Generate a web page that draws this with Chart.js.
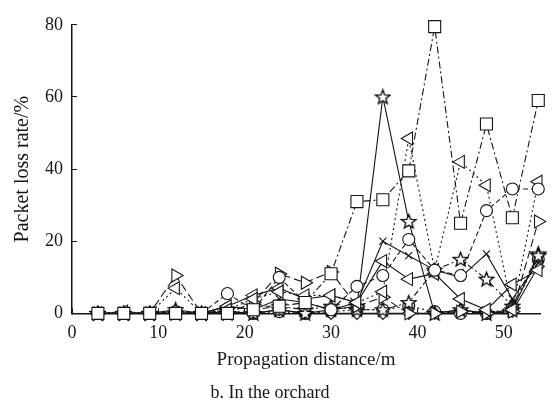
<!DOCTYPE html>
<html>
<head>
<meta charset="utf-8">
<script src="https://cdn.jsdelivr.net/npm/chart.js@4/dist/chart.umd.min.js"></script>
<style>
  html, body { margin: 0; padding: 0; background: #fff; }
</style>
</head>
<body>
<canvas id="grafico" width="552" height="405"></canvas>
<script>
// distanze (m)
var distanze = [3,6,9,12,15,18,21,24,27,30,33,36,39,42,45,48,51,54];

// packet loss (%) per ogni nodo
var lossQuadrato  = [0,0,0,0,0,0,1,2,3,11,31,31.5,39.5,79.5,25,52.5,26.5,59];
var lossCerchio   = [0,0,0,0.5,0,5.5,1,10,3,1,7.5,10.5,20.5,12,10.5,28.5,34.5,34.5];
var lossTriSx     = [0,0.5,0,7,0,1,4,6,5,5,3,6,48.5,12,42,35.5,1,36.5];
var lossTriSx2    = [0,0,0,0,0,2,5,7,4,5,3,14.5,9.5,11,4,1,8,12];
var lossTriDx     = [0,0,0,10.5,0,0,3,11,8.5,11.5,2,4.5,0,0,0.5,0,0.5,25.5];
var lossStella    = [0,0,0,1,0,0,0,1,0,1,2,60,25.5,0,1,0,1,16];
var lossStella2   = [0,0,0,0,0,1,2,2,1,2,1,1,3,12,15,9.5,2,16.5];
var lossCroce     = [0,0,0,0,0,2,1,4,3,1,3,20,16,12,10,16.5,4,14];
var lossRombo     = [0,0,0,0,0,0.5,0,1,0,0,0,0,0,0,1,0,0.5,13];
var lossCerchio2  = [0,0,0,0,0,0,0,0.5,0,0.5,1,1,2,0.5,0,0,1.5,15];

// tick asse x
var tickX = [0,10,20,30,40,50];

const nero = '#161616';
const font = 'Liberation Serif, Times New Roman, serif';

//stella vuota come marker
function stella(){
	var c = document.createElement('canvas');
	c.width = 17; c.height = 17;
	var g = c.getContext('2d');
	g.beginPath();
	for(let i = 0; i < 10; i++){
		var r = i % 2 == 0 ? 7.5 : 3.2;
		var a = -Math.PI/2 + i*Math.PI/5;
		var px = 8.5 + r*Math.cos(a), py = 9 + r*Math.sin(a);
		if(i == 0) g.moveTo(px, py); else g.lineTo(px, py);
	}
	g.closePath();
	g.fillStyle = '#fff';
	g.fill();
	g.strokeStyle = '#000';
	g.lineWidth = 1.3;
	g.stroke();
	return c;
}
const iconaStella = stella();

function serie(vals, stile, raggio, dash, rot){
	return {
		data: distanze.map((d, i) => ({x: d, y: vals[i]})),
		borderColor: nero,
		borderWidth: 1.1,
		borderDash: dash,
		pointStyle: stile,
		pointRadius: raggio,
		pointRotation: rot || 0,
		pointBorderColor: nero,
		pointBorderWidth: 1.1,
		pointBackgroundColor: '#fff',
		fill: false,
		tension: 0,
		clip: false
	};
}

new Chart(document.getElementById('grafico'), {
  type: 'line',
  data: {
    datasets: [
      serie(lossQuadrato, 'rect', 8.5, [7,3,2,3]),
      serie(lossCerchio, 'circle', 6, [5,3]),
      serie(lossTriSx, 'triangle', 7.5, [2,3], -90),
      serie(lossTriSx2, 'triangle', 7.5, [], -90),
      serie(lossTriDx, 'triangle', 7.5, [8,4], 90),
      serie(lossStella, iconaStella, 7, []),
      serie(lossStella2, iconaStella, 7, [6,3,2,3]),
      serie(lossCroce, 'crossRot', 5, []),
      serie(lossRombo, 'rectRot', 6, []),
      serie(lossCerchio2, 'circle', 6, [2,3])
    ]
  },
  options: {
    responsive: false,
    animation: false,
    events: [],
    layout: { padding: { top: 23, right: 12, left: 0, bottom: 0 } },
    plugins: {
      legend: { display: false },
      tooltip: { enabled: false },
      title: {
        display: true,
        position: 'bottom',
        text: 'b. In the orchard',
        color: nero,
        font: { family: font, size: 18, weight: 'normal' },
        padding: { top: 9, bottom: 1 }
      }
    },
    scales: {
      x: {
        type: 'linear',
        min: 0,
        max: 54.2,
        afterFit: function(s){ s.height = 60; },
        afterBuildTicks: function(s){ s.ticks = tickX.map(v => ({value: v})); },
        grid: { drawOnChartArea: false, tickLength: -5, color: nero, lineWidth: 1 },
        border: { color: nero, width: 1.5 },
        ticks: { color: nero, padding: 14, font: { family: font, size: 18 }, maxRotation: 0 },
        title: {
          display: true,
          text: 'Propagation distance/m',
          color: nero,
          font: { family: font, size: 19 },
          padding: { top: 0, bottom: 2 }
        }
      },
      y: {
        min: 0,
        max: 80,
        afterFit: function(s){ s.width = 72; },
        grid: { drawOnChartArea: false, tickLength: -5, color: nero, lineWidth: 1 },
        border: { color: nero, width: 1.5 },
        ticks: { stepSize: 20, color: nero, padding: 14, font: { family: font, size: 18 } },
        title: {
          display: true,
          text: 'Packet loss rate/%',
          color: nero,
          font: { family: font, size: 20 },
          padding: { top: 11, bottom: 0 }
        }
      }
    }
  }
});
</script>
</body>
</html>
